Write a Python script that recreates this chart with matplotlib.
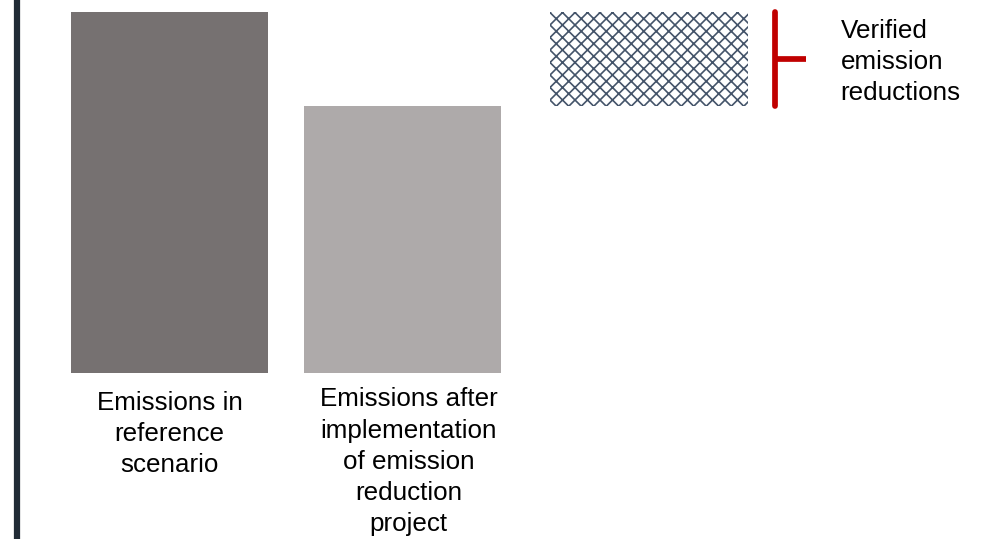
import numpy as np
import matplotlib.pyplot as plt
from matplotlib.lines import Line2D

plt.rcParams['font.family'] = ['Liberation Sans', 'DejaVu Sans']
plt.rcParams['hatch.linewidth'] = 1.6

# data (reference = 100)
labels = ['Emissions in\nreference\nscenario',
          'Emissions after\nimplementation\nof emission\nreduction\nproject']
reference = 100
after_project = 74
reduction = reference - after_project
bracket_label = 'Verified\nemission\nreductions'

DPI = 75
fig = plt.figure(figsize=(983 / DPI, 539 / DPI), dpi=DPI)
ax = fig.add_axes([0, 0, 1, 1])
ax.set_xlim(-0.707, 3.393)
ax.set_ylim(-45.98, 103.32)
ax.axis('off')

xpos = np.array([0, 0.972, 2])
w = 0.822
fs = 25
ls = 1.38

ax.bar(xpos[0], reference, width=w, color='#767171')
ax.bar(xpos[1], after_project, width=w, color='#aeaaaa')
ax.bar(xpos[2], reduction, bottom=after_project, width=w, color='white',
       edgecolor='#44546a', hatch='xx', linewidth=0)

# bracket
bx = xpos[2] + w / 2 + 0.113
ax.plot([bx, bx], [after_project, reference], color='#c00000', lw=5.5,
        solid_capstyle='round')
ax.plot([bx, bx + 0.13], [after_project + reduction / 2] * 2,
        color='#c00000', lw=5.5, solid_capstyle='butt')
ax.text(bx + 0.275, 98.1, bracket_label, ha='left', va='top',
        fontsize=fs, linespacing=ls)

ax.text(xpos[0], -5.0, labels[0], ha='center', va='top', fontsize=fs,
        linespacing=ls)
ax.text(xpos[1] + 0.025, -4.0, labels[1], ha='center', va='top', fontsize=fs,
        linespacing=ls)

# dark rule on the left
fig.add_artist(Line2D([17 / 983, 17 / 983], [0, 1], color='#212b36', lw=6))

fig.savefig('out.png', dpi=DPI)
plt.close()
